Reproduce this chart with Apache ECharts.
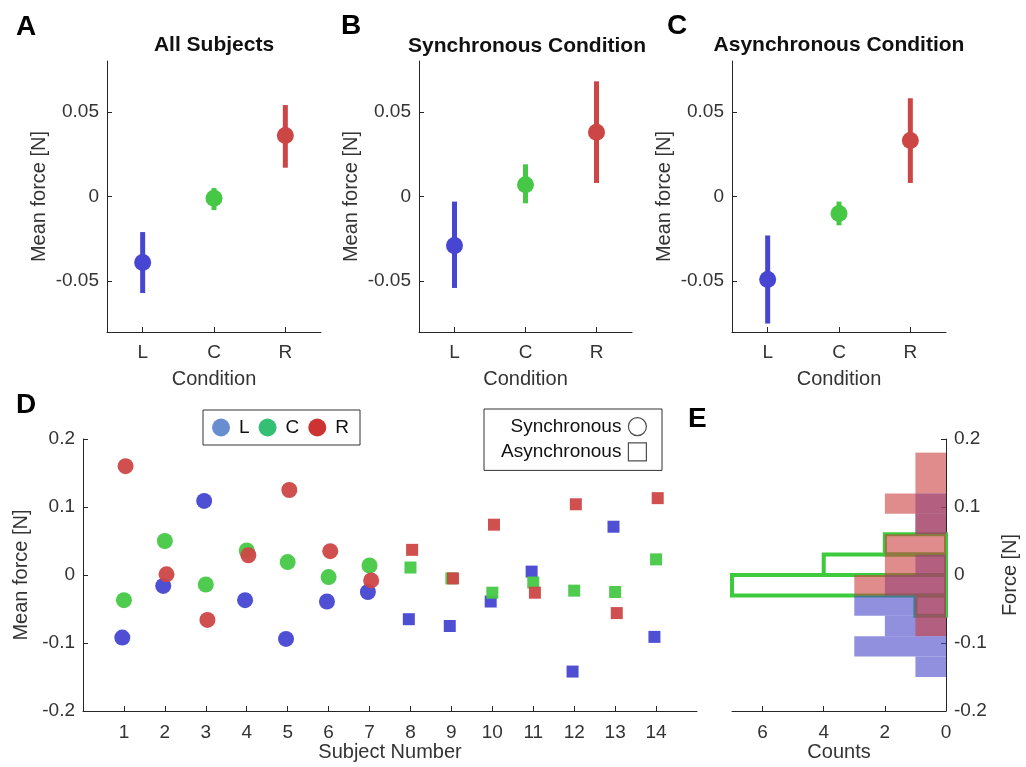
<!DOCTYPE html>
<html>
<head>
<meta charset="utf-8">
<script src="https://cdn.jsdelivr.net/npm/echarts@6.0.0/dist/echarts.min.js"></script>
<style>
  html, body { margin: 0; padding: 0; background: #fff; }
  #chart { width: 1026px; height: 767px; }
</style>
</head>
<body>
<div id="chart"></div>
<script>
// ---------------- DATA ----------------
const conditions = ['L', 'C', 'R'];

// Panel A: All Subjects (mean, lower, upper of error bar)
const allMean  = [-0.039, -0.001, 0.036];
const allLow   = [-0.057, -0.008, 0.017];
const allHigh  = [-0.021,  0.005, 0.054];

// Panel B: Synchronous condition
const syncMean = [-0.029,  0.007, 0.038];
const syncLow  = [-0.054, -0.004, 0.008];
const syncHigh = [-0.003,  0.019, 0.068];

// Panel C: Asynchronous condition
const asyncMean = [-0.049, -0.010, 0.033];
const asyncLow  = [-0.075, -0.017, 0.008];
const asyncHigh = [-0.023, -0.003, 0.058];

// Panel D: per-subject mean force
const subjects = [1, 2, 3, 4, 5, 6, 7, 8, 9, 10, 11, 12, 13, 14];
const syncSubjects = [1, 2, 3, 4, 5, 6, 7];
const forceL = [-0.092, -0.016, 0.109, -0.037, -0.094, -0.039, -0.025, -0.065, -0.075, -0.039, 0.005, -0.142, 0.071, -0.091];
const forceC = [-0.037, 0.050, -0.014, 0.036, 0.019, -0.003, 0.014, 0.011, -0.005, -0.026, -0.011, -0.023, -0.025, 0.023];
const forceR = [0.160, 0.001, -0.066, 0.029, 0.125, 0.035, -0.008, 0.037, -0.005, 0.074, -0.026, 0.104, -0.056, 0.113];

// Panel E: histogram bin width (N)
const binWidth = 0.03;

// tick labels
const yTicksABC = [-0.05, 0, 0.05];
const xTicksD = [1, 2, 3, 4, 5, 6, 7, 8, 9, 10, 11, 12, 13, 14];
const xTicksE = [0, 2, 4, 6];

// ---------------- STYLE ----------------
const FONT = "'Liberation Sans', Arial, Helvetica, sans-serif";
const markColors = ['#4646D2', '#46C846', '#CD4646'];
const legendColors = ['#4472C4', '#00B050', '#C00000'];
const jitter = [-0.04, 0, 0.04];
const histFill = ['rgba(70,70,200,0.6)', 'rgba(204,64,64,0.6)'];
const histGreen = '#3CCB3C';
const axisColor = '#262626';
const labelColor = '#333';

function fmt(v) { const s = String(+(+v).toFixed(3)); return s === '-0' ? '0' : s; }

function baseAxis(extra) {
  return Object.assign({
    axisLine: { show: true, onZero: false, lineStyle: { color: axisColor, width: 1 } },
    axisTick: { show: true, inside: true, length: 5, lineStyle: { color: axisColor } },
    axisLabel: { color: labelColor, fontSize: 19, fontFamily: FONT },
    splitLine: { show: false },
    nameLocation: 'middle',
    nameTextStyle: { color: labelColor, fontSize: 20, fontFamily: FONT }
  }, extra);
}

// ---------------- BUILD ----------------
const grids = [
  { left: 107, top: 61, width: 214, height: 271 },
  { left: 419, top: 61, width: 213, height: 271 },
  { left: 732, top: 61, width: 214, height: 271 },
  { left: 83, top: 439, width: 614, height: 272 },
  { left: 732, top: 439, width: 214, height: 272 }
].map(g => Object.assign({ containLabel: false, outerBoundsMode: 'none' }, g));

const xAxes = [], yAxes = [];
for (let i = 0; i < 3; i++) {
  const ax = baseAxis({ type: 'category', gridIndex: i, data: conditions, name: 'Condition', nameGap: 37 });
  ax.axisTick = Object.assign({}, ax.axisTick, { alignWithLabel: true });
  ax.axisLabel = Object.assign({}, ax.axisLabel, { margin: 11, fontSize: 19 });
  xAxes.push(ax);
  const ay = baseAxis({ type: 'value', gridIndex: i, min: -0.08, max: 0.08, name: 'Mean force [N]', nameGap: 58 });
  ay.axisLabel = Object.assign({}, ay.axisLabel, { customValues: yTicksABC, formatter: fmt, margin: 8 });
  ay.axisTick = Object.assign({}, ay.axisTick, { customValues: yTicksABC });
  yAxes.push(ay);
}
// D
(function () {
  const ax = baseAxis({ type: 'value', gridIndex: 3, min: 0, max: 15, name: 'Subject Number', nameGap: 31 });
  ax.axisLabel = Object.assign({}, ax.axisLabel, { customValues: xTicksD, margin: 12 });
  ax.axisTick = Object.assign({}, ax.axisTick, { customValues: xTicksD });
  xAxes.push(ax);
  const ay = baseAxis({ type: 'value', gridIndex: 3, min: -0.2, max: 0.2, interval: 0.1, name: 'Mean force [N]', nameGap: 50 });
  ay.axisLabel = Object.assign({}, ay.axisLabel, { formatter: fmt, margin: 8 });
  yAxes.push(ay);
})();
// E
(function () {
  const ax = baseAxis({ type: 'value', gridIndex: 4, min: 0, max: 7, inverse: true, name: 'Counts', nameGap: 28 });
  ax.axisLabel = Object.assign({}, ax.axisLabel, { customValues: xTicksE, margin: 12 });
  ax.axisTick = Object.assign({}, ax.axisTick, { customValues: xTicksE });
  xAxes.push(ax);
  const ay = baseAxis({ type: 'value', gridIndex: 4, position: 'right', min: -0.2, max: 0.2, interval: 0.1, name: 'Force [N]', nameGap: 54, nameRotate: 90 });
  ay.axisLabel = Object.assign({}, ay.axisLabel, { formatter: fmt, margin: 8 });
  yAxes.push(ay);
})();

const series = [];

// Panels A-C
const panels = [
  [allMean, allLow, allHigh],
  [syncMean, syncLow, syncHigh],
  [asyncMean, asyncLow, asyncHigh]
];
panels.forEach((p, i) => {
  const [m, lo, hi] = p;
  series.push({
    type: 'custom', xAxisIndex: i, yAxisIndex: i, silent: true,
    encode: { x: 0, y: [1, 2] },
    data: conditions.map((c, k) => [k, lo[k], hi[k]]),
    renderItem: function (params, api) {
      const a = api.coord([api.value(0), api.value(1)]);
      const b = api.coord([api.value(0), api.value(2)]);
      return { type: 'line', shape: { x1: a[0], y1: a[1], x2: b[0], y2: b[1] },
               style: { stroke: markColors[params.dataIndex], lineWidth: 5 } };
    },
    z: 2
  });
  series.push({
    type: 'scatter', xAxisIndex: i, yAxisIndex: i, silent: true,
    symbol: 'circle', symbolSize: 17,
    data: m.map((v, k) => [k, v]),
    itemStyle: { color: params => markColors[params.dataIndex], opacity: 1 },
    z: 3
  });
});

// Panel D
const forces = [forceL, forceC, forceR];
forces.forEach((arr, ci) => {
  const syncData = [], asyncData = [];
  subjects.forEach((s, k) => {
    const pt = [s + jitter[ci], arr[k]];
    if (syncSubjects.indexOf(s) >= 0) syncData.push(pt); else asyncData.push(pt);
  });
  series.push({
    type: 'scatter', xAxisIndex: 3, yAxisIndex: 3, silent: true,
    symbol: 'circle', symbolSize: 16, data: syncData,
    itemStyle: { color: markColors[ci], opacity: 0.95 }, z: 3 + ci
  });
  series.push({
    type: 'scatter', xAxisIndex: 3, yAxisIndex: 3, silent: true,
    symbol: 'rect', symbolSize: 12, data: asyncData,
    itemStyle: { color: markColors[ci], opacity: 0.95 }, z: 3 + ci
  });
});

// legend dummy series
conditions.forEach((c, ci) => {
  series.push({ type: 'scatter', name: c, xAxisIndex: 3, yAxisIndex: 3, data: [],
                symbol: 'circle', itemStyle: { color: legendColors[ci] } });
});
series.push({ type: 'scatter', name: 'Synchronous', xAxisIndex: 3, yAxisIndex: 3, data: [],
              symbol: 'circle', itemStyle: { color: '#ffffff', borderColor: '#222', borderWidth: 1.2 } });
series.push({ type: 'scatter', name: 'Asynchronous', xAxisIndex: 3, yAxisIndex: 3, data: [],
              symbol: 'rect', itemStyle: { color: '#ffffff', borderColor: '#222', borderWidth: 1.2 } });

// Panel E: histograms computed from the per-subject values
function histogram(values) {
  const counts = {};
  values.forEach(v => {
    const b = Math.floor(v / binWidth + 1e-9);
    counts[b] = (counts[b] || 0) + 1;
  });
  return Object.keys(counts).map(b => [(+b) * binWidth, (+b + 1) * binWidth, counts[b]]);
}
function histSeries(values, style) {
  return {
    type: 'custom', xAxisIndex: 4, yAxisIndex: 4, silent: true, clip: false,
    encode: { x: 2, y: [0, 1] },
    data: histogram(values),
    renderItem: function (params, api) {
      const a = api.coord([0, api.value(0)]);
      const b = api.coord([api.value(2), api.value(1)]);
      return { type: 'rect',
               shape: { x: Math.min(a[0], b[0]), y: Math.min(a[1], b[1]),
                        width: Math.abs(a[0] - b[0]), height: Math.abs(a[1] - b[1]) },
               style: style };
    }
  };
}
series.push(Object.assign(histSeries(forceC, { fill: 'none', stroke: histGreen, lineWidth: 4 }), { z: 2 }));
series.push(Object.assign(histSeries(forceL, { fill: histFill[0], stroke: 'none' }), { z: 3 }));
series.push(Object.assign(histSeries(forceR, { fill: histFill[1], stroke: 'none' }), { z: 4 }));

const letterStyle = { fontSize: 28, fontWeight: 'bold', color: '#000', fontFamily: FONT };
const titleStyle = { fontSize: 21, fontWeight: 'bold', color: '#111', fontFamily: FONT };

const option = {
  backgroundColor: '#ffffff',
  animation: false,
  title: [
    { text: 'A', left: 16, top: 13, padding: 0, textStyle: letterStyle },
    { text: 'B', left: 341, top: 12, padding: 0, textStyle: letterStyle },
    { text: 'C', left: 667, top: 12, padding: 0, textStyle: letterStyle },
    { text: 'D', left: 16, top: 391, padding: 0, textStyle: letterStyle },
    { text: 'E', left: 688, top: 405, padding: 0, textStyle: letterStyle },
    { text: 'All Subjects', left: 214, top: 35, padding: 0, textAlign: 'center', textStyle: titleStyle },
    { text: 'Synchronous Condition', left: 527, top: 36, padding: 0, textAlign: 'center', textStyle: titleStyle },
    { text: 'Asynchronous Condition', left: 839, top: 35, padding: 0, textAlign: 'center', textStyle: titleStyle }
  ],
  legend: [
    {
      left: 203, top: 410, orient: 'horizontal', selectedMode: false,
      padding: [8, 11, 8, 9], itemWidth: 18, itemHeight: 18, itemGap: 9,
      borderColor: '#333', borderWidth: 1,
      textStyle: { fontSize: 19, color: '#111', fontFamily: FONT, padding: [0, 0, 0, 4] },
      data: conditions.map((c, ci) => ({ name: c, icon: 'circle', itemStyle: { color: legendColors[ci] } }))
    },
    {
      left: 484, top: 409, orient: 'vertical', align: 'right', selectedMode: false,
      padding: [8, 15, 9, 17], itemWidth: 18, itemHeight: 18, itemGap: 6,
      borderColor: '#333', borderWidth: 1,
      textStyle: { fontSize: 19, color: '#111', fontFamily: FONT, padding: [0, 2, 0, 0] },
      data: [
        { name: 'Synchronous', icon: 'circle',
          itemStyle: { color: '#fff', borderColor: '#222', borderWidth: 1.2 },
          textStyle: { padding: [0, 2, 0, 13] } },
        { name: 'Asynchronous', icon: 'rect',
          itemStyle: { color: '#fff', borderColor: '#222', borderWidth: 1.2 } }
      ]
    }
  ],
  grid: grids,
  xAxis: xAxes,
  yAxis: yAxes,
  series: series
};

const chart = echarts.init(document.getElementById('chart'), null, { renderer: 'canvas' });
chart.setOption(option);
</script>
</body>
</html>
